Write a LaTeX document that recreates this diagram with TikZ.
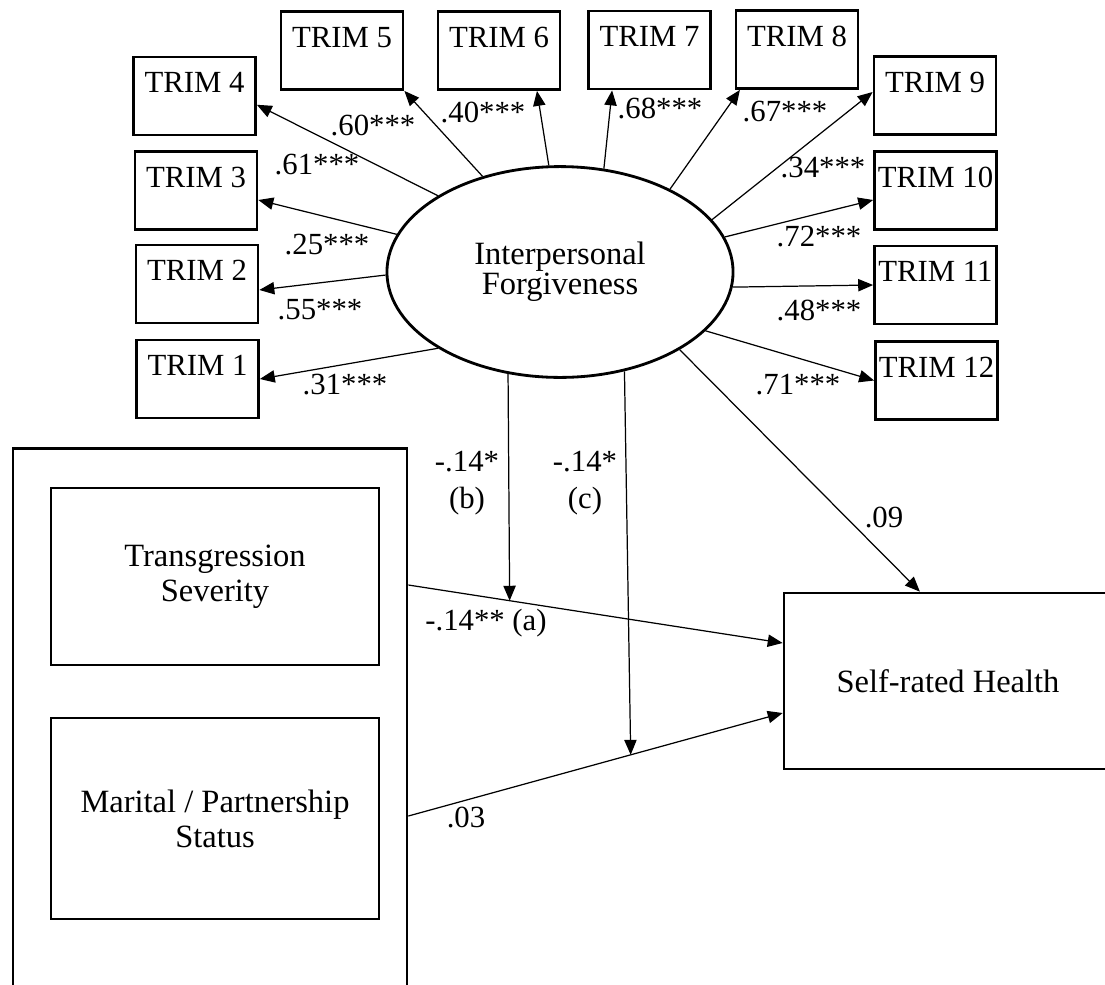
\documentclass[tikz,border=0pt]{standalone}
\usepackage{fontspec}
\setmainfont{Liberation Serif}
\usetikzlibrary{positioning,shapes.geometric,arrows.meta,calc}

\tikzset{
  trimbox/.style={draw, line width=1.6pt, minimum width=69.4pt, minimum height=44.4pt,
    inner sep=0pt, text height=12.5pt, text depth=16pt, font=\fontsize{17.5}{20}\selectfont},
  varbox/.style={draw, line width=1.6pt, align=center, inner sep=0pt,
    font=\fontsize{18.5}{20}\selectfont},
  load/.style={-{Triangle[length=8.5pt,width=7pt]}, line width=0.7pt},
  coef/.style={inner sep=0pt, align=center, font=\fontsize{17.5}{21}\selectfont}
}

\begin{document}
\begin{tikzpicture}[x=0.02cm, y=-0.02cm]
        \useasboundingbox (0,0) rectangle (1105,984);
       \node [ellipse, draw, line width=1.6pt, minimum width=197pt, minimum height=120pt,
         align=center, font=\fontsize{18.5}{17}\selectfont] (f) at (560,272) {Interpersonal\\Forgiveness};
        \node [trimbox] (t1) at (197.5,379) {TRIM 1};
        \node [trimbox] (t2) at (197,284) {TRIM 2};
        \node [trimbox] (t3) at (196,190.5) {TRIM 3};
        \node [trimbox] (t4) at (194.5,96) {TRIM 4};
        \node [trimbox] (t5) at (342,50.5) {TRIM 5};
        \node [trimbox] (t6) at (499,50.5) {TRIM 6};
        \node [trimbox] (t7) at (649.5,50) {TRIM 7};
        \node [trimbox] (t8) at (797,49.5) {TRIM 8};
        \node [trimbox] (t9) at (935,95.5) {TRIM 9};
        \node [trimbox] (t10) at (935.5,190.5) {TRIM 10};
        \node [trimbox] (t11) at (935.5,285) {TRIM 11};
        \node [trimbox] (t12) at (936.5,380.5) {TRIM 12};
%      outer group box and the outcome
        \node [draw, line width=1.6pt, minimum width=224.2pt, minimum height=306.5pt] (grp) at (210,718) {};
        \node [varbox, minimum width=186.6pt, minimum height=100.7pt] (ts) at (215,576.5) {Transgression\\Severity};
        \node [varbox, minimum width=186.6pt, minimum height=114.4pt] (ms) at (215,818.5) {Marital / Partnership\\Status};
        \node [varbox, minimum width=186.6pt, minimum height=100.1pt] (sh) at (948,681) {Self-rated Health};
        \draw [load] (f.212.4) -- (t1.east);
        \draw [load] (f.181) -- ([yshift=-3.4pt]t2.east);
        \draw [load] (f.167.2) -- ([yshift=-5.4pt]t3.east);
        \draw [load] (f.148.6) -- ([yshift=-5pt]t4.east);
        \draw [load] (f.129) -- (t5.south east);
        \draw [load] (f.96.6) -- ([xshift=21.6pt]t6.south);
        \draw [load] (f.67.6) -- ([xshift=-21.3pt]t7.south);
        \draw [load] (f.37.9) -- ([xshift=3pt]t8.south west);
        \draw [load] (f.19.2) -- ([yshift=2pt]t9.west);
        \draw [load] (f.12.2) -- ([yshift=-5.4pt]t10.west);
        \draw [load] (f.-5) -- (t11.west);
        \draw [load] (f.-22.8) -- (t12.west);
        \node [coef] (l1) at (345,385) {.31***};
        \node [coef] (l2) at (320,310) {.55***};
        \node [coef] (l3) at (327,245) {.25***};
        \node [coef] (l4) at (317,165) {.61***};
        \node [coef] (l5) at (373,125) {.60***};
        \node [coef] (l6) at (483,112) {.40***};
        \node [coef] (l7) at (660,108) {.68***};
        \node [coef] (l8) at (785,112) {.67***};
        \node [coef] (l9) at (823,168) {.34***};
        \node [coef] (l10) at (819,237) {.72***};
        \node [coef] (l11) at (819,310) {.48***};
        \node [coef] (l12) at (798,385) {.71***};
        \coordinate (tsout) at ($(grp.east |- ts.east)+(0,8.5)$);
        \coordinate (msout) at ($(grp.east |- ms.east)+(0,-2.5)$);
        \coordinate (shin1) at ($(sh.west)+(0,-38)$);
        \coordinate (shin2) at ($(sh.west)+(0,32)$);
        \draw [load] (tsout) -- (shin1);
        \draw [load] (msout) -- (shin2);
        \draw [load] (f.243) -- ($(tsout)!0.2706!(shin1)$);
        \draw [load] (f.303) -- ($(msout)!0.594!(shin2)$);
        \draw [load] (f.-33) -- ($(sh.north west)!0.415!(sh.north east)$);
        \node [coef] (lb) at (467,483) {-.14*\\(b)};
        \node [coef] (lc) at (585,483) {-.14*\\(c)};
        \node [coef] (la) at (486,623) {-.14** (a)};
        \node [coef] (ld) at (466,817) {.03};
        \node [coef] (lh) at (884,517) {.09};
\end{tikzpicture}
\end{document}
